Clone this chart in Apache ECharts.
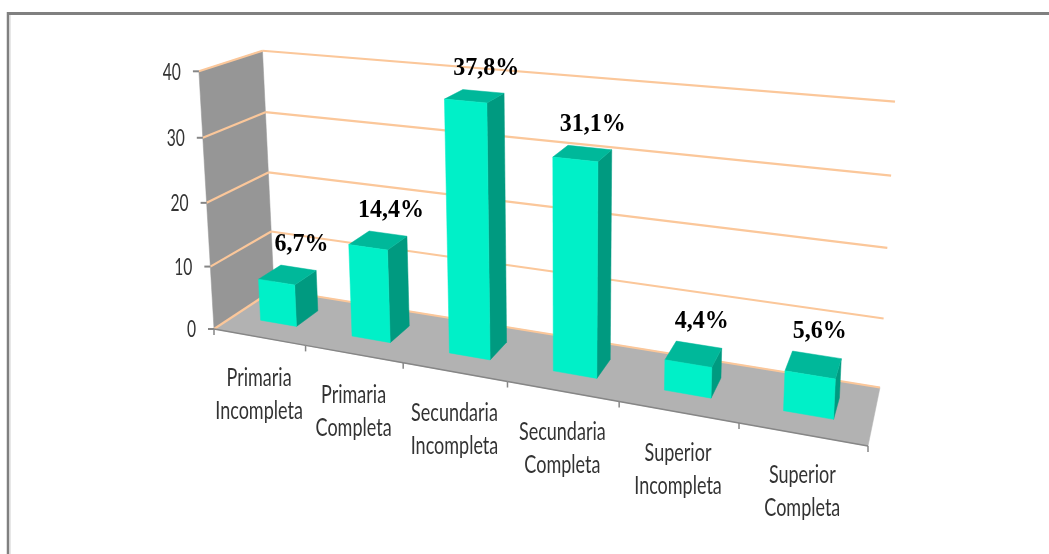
<!DOCTYPE html>
<html>
<head>
<meta charset="utf-8">
<style>html,body{margin:0;padding:0;background:#fff}#c{width:1049px;height:554px}</style>
<script src="https://cdn.jsdelivr.net/npm/echarts@6/dist/echarts.min.js"></script>
</head>
<body>
<div id="c"></div>
<script>
const categories = ['Primaria\nIncompleta','Primaria\nCompleta','Secundaria\nIncompleta','Secundaria\nCompleta','Superior\nIncompleta','Superior\nCompleta'];
const values = [6.7, 14.4, 37.8, 31.1, 4.4, 5.6];
const yTicks = [0, 10, 20, 30, 40];

// Perspective view of the plot box: unit cube corners on screen
const A=[214,329],C=[868,446],D=[880,387.5],B=[274,289.5],E=[198,71.7],F=[263.3,51.7],G=[895,100];
const dx1=C[0]-D[0],dx2=B[0]-D[0],sx=A[0]-C[0]+D[0]-B[0];
const dy1=C[1]-D[1],dy2=B[1]-D[1],sy=A[1]-C[1]+D[1]-B[1];
const den=dx1*dy2-dx2*dy1;
const g=(sx*dy2-dx2*sy)/den,h=(dx1*sy-sx*dy1)/den;
const a=C[0]-A[0]+g*C[0],b=B[0]-A[0]+h*B[0],c0=A[0];
const d=C[1]-A[1]+g*C[1],e=B[1]-A[1]+h*B[1],f0=A[1];
function solveVy(){
  const rows=[],rhs=[];
  [[E,0,0],[F,0,1],[G,1,1]].forEach(([P,x,z])=>{
    const W=g*x+h*z+1;
    rows.push([1,0,-P[0]]);rhs.push(P[0]*W-(a*x+b*z+c0));
    rows.push([0,1,-P[1]]);rhs.push(P[1]*W-(d*x+e*z+f0));
  });
  const M=[[0,0,0,0],[0,0,0,0],[0,0,0,0]];
  rows.forEach((r,k)=>{for(let i=0;i<3;i++){for(let j=0;j<3;j++)M[i][j]+=r[i]*r[j];M[i][3]+=r[i]*rhs[k];}});
  for(let i=0;i<3;i++){
    for(let k=i+1;k<3;k++){const t=M[k][i]/M[i][i];for(let j=i;j<4;j++)M[k][j]-=t*M[i][j];}
  }
  const s=[0,0,0];
  for(let i=2;i>=0;i--){let v=M[i][3];for(let j=i+1;j<3;j++)v-=M[i][j]*s[j];s[i]=v/M[i][i];}
  return s;
}
const Vy=solveVy();
function proj(x,y,z){
  const W=g*x+h*z+1+Vy[2]*y;
  return [(a*x+b*z+c0+Vy[0]*y)/W,(d*x+e*z+f0+Vy[1]*y)/W];
}
// Read the library's scale output as unit coordinates of the plot rectangle
function unit(params,api,cat,val,shift){
  const cs=params.coordSys,p=api.coord([cat,val]),band=api.size([1,0])[0];
  return [(p[0]+(shift||0)*band-cs.x)/cs.width,(cs.y+cs.height-p[1])/cs.height];
}
function poly(points,fill,stroke){
  return {type:'polygon',shape:{points},style:{fill,stroke:stroke||fill,lineWidth:0.5}};
}
function line(p,q,stroke,w){
  return {type:'line',shape:{x1:p[0],y1:p[1],x2:q[0],y2:q[1]},style:{stroke,lineWidth:w}};
}
function txt(x,y,text,font,fill,align,scaleX,lh){
  return {type:'text',x,y,scaleX:scaleX||1,style:{text,font,fill,align,verticalAlign:'middle',lineHeight:lh||undefined}};
}
const ORANGE='#fbc79a',AXIS='#868686';
const labelFont='25px Lato',DEPTH0=0.32,DEPTH1=0.70,BAR=0.40;

const option={
  animation:false,
  backgroundColor:'#ffffff',
  grid:{left:100,right:100,top:50,bottom:100},
  xAxis:{type:'category',data:categories,show:false},
  yAxis:{type:'value',min:0,max:40,interval:10,show:false},
  graphic:[
    {type:'line',shape:{x1:8,y1:13.5,x2:1049,y2:13.5},style:{stroke:'#808080',lineWidth:3}},
    {type:'line',shape:{x1:8,y1:12,x2:8,y2:554},style:{stroke:'#808080',lineWidth:2.5}},
    {type:'line',shape:{x1:10,y1:15,x2:10,y2:554},style:{stroke:'#d0d0d0',lineWidth:1}}
  ],
  series:[
    {
      type:'custom',coordinateSystem:'cartesian2d',z:1,silent:true,
      data:[[0,0]],
      renderItem(params,api){
        const v0=unit(params,api,0,yTicks[0])[1],v1=unit(params,api,0,yTicks[yTicks.length-1])[1];
        return {type:'group',children:[
          poly([proj(0,v0,0),proj(0,v1,0),proj(0,v1,1),proj(0,v0,1)],'#969696'),
          poly([proj(0,v0,0),proj(1,v0,0),proj(1,v0,1),proj(0,v0,1)],'#b2b2b2')
        ]};
      }
    },
    {
      type:'custom',coordinateSystem:'cartesian2d',z:2,silent:true,
      data:yTicks.map(t=>[0,t]),
      renderItem(params,api){
        const v=unit(params,api,0,api.value(1))[1];
        const p0=proj(0,v,0);
        return {type:'group',children:[
          line(p0,proj(0,v,1),ORANGE,2.2),
          line(proj(0,v,1),proj(1,v,1),ORANGE,2.2),
          line([p0[0]-6,p0[1]],p0,AXIS,2),
          txt(p0[0]-18,p0[1]+1,String(api.value(1)),'23px Lato','#333333','right',0.68)
        ]};
      }
    },
    {
      type:'custom',coordinateSystem:'cartesian2d',z:3,silent:true,
      data:categories.map((c,i)=>[i,0]),
      renderItem(params,api){
        const i=api.value(0),u0=unit(params,api,i,0,-0.5)[0],u1=unit(params,api,i,0,0.5)[0],um=unit(params,api,i,0)[0];
        const l=proj(u0,0,0),r=proj(u1,0,0),m=proj(um,0,0);
        const ch=[line(l,r,AXIS,1.5),line(r,[r[0],r[1]+6],AXIS,1.5)];
        if(i===0) ch.push(line(l,[l[0],l[1]+6],AXIS,1.5));
        ch.push(txt(m[0],m[1]+57,categories[i],labelFont,'#333333','center',0.72,33));
        return {type:'group',children:ch};
      }
    },
    {
      type:'custom',coordinateSystem:'cartesian2d',z:4,silent:true,
      data:values.map((v,i)=>[i,v]),
      renderItem(params,api){
        const i=api.value(0),val=api.value(1);
        const ul=unit(params,api,i,0,-BAR/2)[0],ur=unit(params,api,i,0,BAR/2)[0],vt=unit(params,api,i,val)[1];
        const flb=proj(ul,0,DEPTH0),frb=proj(ur,0,DEPTH0),brb=proj(ur,0,DEPTH1);
        const flt=proj(ul,vt,DEPTH0),frt=proj(ur,vt,DEPTH0),brt=proj(ur,vt,DEPTH1),blt=proj(ul,vt,DEPTH1);
        return {type:'group',children:[
          poly([frb,brb,brt,frt],'#009a80'),
          poly([flt,frt,brt,blt],'#00b89a'),
          poly([flb,frb,frt,flt],'#00f0c8')
        ]};
      }
    },
    {
      type:'custom',coordinateSystem:'cartesian2d',z:5,silent:true,
      data:values.map((v,i)=>[i,v]),
      renderItem(params,api){
        const i=api.value(0),val=api.value(1);
        const um=unit(params,api,i,0)[0],vt=unit(params,api,i,val)[1];
        const p=proj(um,vt,DEPTH1);
        return txt(p[0]+3,p[1]-23,String(val).replace('.',',')+'%','bold 25px "Liberation Serif", "Times New Roman", serif','#000000','center',0.96);
      }
    }
  ]
};
echarts.init(document.getElementById('c')).setOption(option);
</script>
</body>
</html>
